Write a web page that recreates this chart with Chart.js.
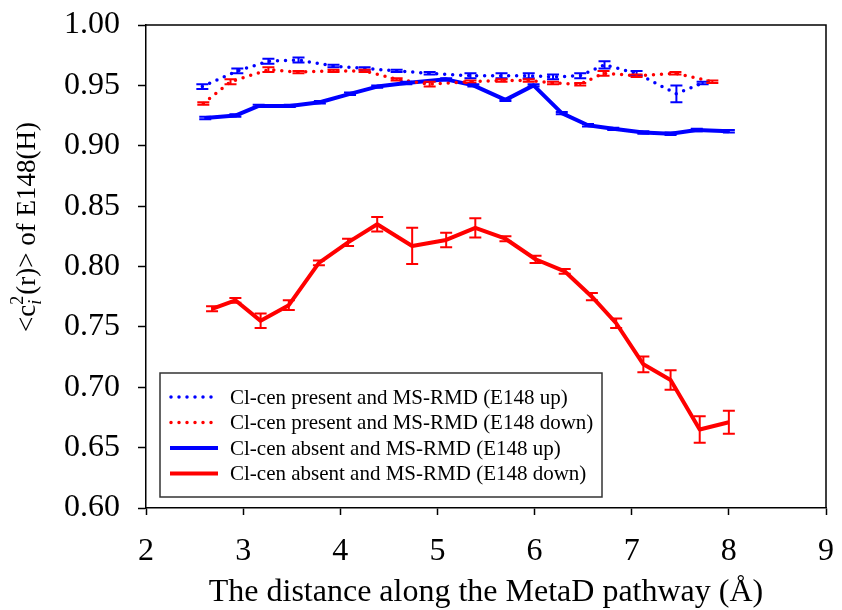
<!DOCTYPE html>
<html>
<head>
<meta charset="utf-8">
<script src="https://cdn.jsdelivr.net/npm/chart.js@4.4.0/dist/chart.umd.min.js"></script>
<style>
  html, body { margin: 0; padding: 0; background: #fff; }
  #wrap { width: 842px; height: 610px; }
</style>
</head>
<body>
<div id="wrap"><canvas id="myChart"></canvas></div>
<script>
// x ticks / y ticks
const X_MIN = 2, X_MAX = 9;
const Y_MIN = 0.60, Y_MAX = 1.00, Y_STEP = 0.05;

const LABELS = [
  "Cl-cen present and MS-RMD (E148 up)",
  "Cl-cen present and MS-RMD (E148 down)",
  "Cl-cen absent and MS-RMD (E148 up)",
  "Cl-cen absent and MS-RMD (E148 down)",
];

// Cl-cen present, E148 up (blue dotted)
const PRESENT_UP_X = [2.58, 2.94, 3.26, 3.57, 3.93, 4.25, 4.58, 4.92, 5.34, 5.66, 5.94, 6.19, 6.47, 6.72, 7.05, 7.46, 7.73];
const PRESENT_UP_Y = [0.949, 0.962, 0.970, 0.971, 0.966, 0.964, 0.962, 0.960, 0.958, 0.958, 0.958, 0.957, 0.958, 0.967, 0.960, 0.943, 0.952];
const PRESENT_UP_ERR = [0.002, 0.002, 0.002, 0.002, 0.001, 0.001, 0.001, 0.001, 0.002, 0.002, 0.002, 0.002, 0.002, 0.003, 0.002, 0.007, 0.001];

// Cl-cen present, E148 down (red dotted)
const PRESENT_DOWN_X = [2.59, 2.87, 3.26, 3.57, 3.93, 4.25, 4.58, 4.92, 5.34, 5.66, 5.94, 6.19, 6.47, 6.71, 7.05, 7.45, 7.83];
const PRESENT_DOWN_Y = [0.935, 0.953, 0.963, 0.961, 0.962, 0.962, 0.955, 0.951, 0.953, 0.954, 0.954, 0.952, 0.951, 0.960, 0.958, 0.960, 0.953];
const PRESENT_DOWN_ERR = [0.001, 0.002, 0.002, 0.001, 0.001, 0.001, 0.001, 0.002, 0.001, 0.001, 0.001, 0.001, 0.001, 0.002, 0.001, 0.001, 0.001];

// Cl-cen absent, E148 up (blue solid)
const ABSENT_UP_X = [2.61, 2.92, 3.16, 3.48, 3.79, 4.10, 4.38, 4.68, 5.09, 5.37, 5.70, 5.99, 6.28, 6.55, 6.81, 7.12, 7.40, 7.67, 8.00];
const ABSENT_UP_Y = [0.923, 0.925, 0.933, 0.933, 0.936, 0.943, 0.949, 0.952, 0.955, 0.950, 0.938, 0.950, 0.927, 0.917, 0.914, 0.911, 0.910, 0.913, 0.912];
const ABSENT_UP_ERR = [0.001, 0.001, 0.001, 0.001, 0.001, 0.001, 0.001, 0.001, 0.001, 0.001, 0.001, 0.001, 0.001, 0.001, 0.001, 0.001, 0.001, 0.001, 0.001];

// Cl-cen absent, E148 down (red solid)
const ABSENT_DOWN_X = [2.68, 2.92, 3.18, 3.47, 3.78, 4.08, 4.38, 4.74, 5.09, 5.39, 5.70, 6.01, 6.31, 6.59, 6.84, 7.12, 7.40, 7.70, 8.00];
const ABSENT_DOWN_Y = [0.765, 0.772, 0.755, 0.768, 0.803, 0.820, 0.835, 0.817, 0.822, 0.832, 0.823, 0.806, 0.796, 0.775, 0.753, 0.719, 0.706, 0.665, 0.671];
const ABSENT_DOWN_ERR = [0.002, 0.002, 0.006, 0.004, 0.002, 0.003, 0.006, 0.015, 0.006, 0.008, 0.002, 0.003, 0.002, 0.003, 0.004, 0.0065, 0.008, 0.011, 0.0095];

const SERIF = "'Liberation Serif', 'Times New Roman', serif";
const BLUE = "#0000ff";
const RED = "#ff0000";

function pts(xs, ys) {
  return xs.map((x, i) => ({ x: x, y: ys[i] }));
}

function series(label, xs, ys, errs, color, dotted) {
  return {
    label: label,
    data: pts(xs, ys),
    errors: errs,
    borderColor: color,
    backgroundColor: color,
    borderWidth: dotted ? 3.5 : 4,
    borderDash: dotted ? [0, 8] : [],
    borderCapStyle: dotted ? "round" : "butt",
    borderJoinStyle: "round",
    pointRadius: 0,
    tension: 0,
    dotted: dotted,
  };
}

// error bars with caps
const errorBars = {
  id: "errorBars",
  afterDatasetsDraw(chart) {
    const { ctx, scales: { x, y } } = chart;
    chart.data.datasets.forEach((ds) => {
      ctx.save();
      ctx.strokeStyle = ds.borderColor;
      ctx.lineWidth = 2;
      ds.data.forEach((p, i) => {
        const e = ds.errors[i];
        if (!e) return;
        const px = x.getPixelForValue(p.x);
        const top = y.getPixelForValue(p.y + e);
        const bot = y.getPixelForValue(p.y - e);
        ctx.beginPath();
        ctx.moveTo(px, top); ctx.lineTo(px, bot);
        ctx.moveTo(px - 6, top); ctx.lineTo(px + 6, top);
        ctx.moveTo(px - 6, bot); ctx.lineTo(px + 6, bot);
        ctx.stroke();
      });
      ctx.restore();
    });
  },
};

// frame, y title with sub/superscript, legend box
const extras = {
  id: "extras",
  afterDraw(chart) {
    const { ctx, chartArea: a } = chart;
    ctx.save();
    ctx.strokeStyle = "#000";
    ctx.lineWidth = 1.5;
    ctx.beginPath();
    ctx.moveTo(a.left, a.top); ctx.lineTo(a.right, a.top); ctx.lineTo(a.right, a.bottom);
    ctx.stroke();

    // y title
    const big = "27px " + SERIF, small = "18px " + SERIF, smallIt = "italic 18px " + SERIF;
    ctx.save();
    ctx.translate(28, 227);
    ctx.rotate(-Math.PI / 2);
    ctx.fillStyle = "#000";
    ctx.textBaseline = "middle";
    ctx.textAlign = "left";
    const p1 = "<c", p3 = "(r)> of E148(H)";
    ctx.font = big; const w1 = ctx.measureText(p1).width, w3 = ctx.measureText(p3).width;
    ctx.font = small; const w2 = ctx.measureText("2").width + 1;
    let cx = -(w1 + w2 + w3) / 2;
    ctx.font = big; ctx.fillText(p1, cx, 0); cx += w1;
    ctx.font = smallIt; ctx.fillText("i", cx, 8);
    ctx.font = small; ctx.fillText("2", cx, -10); cx += w2;
    ctx.font = big; ctx.fillText(p3, cx, 0);
    ctx.restore();

    // legend
    const lx = 160, ly = 373, lw = 442, lh = 124;
    ctx.fillStyle = "#fff";
    ctx.fillRect(lx, ly, lw, lh);
    ctx.strokeStyle = "#333";
    ctx.lineWidth = 1.5;
    ctx.strokeRect(lx, ly, lw, lh);
    ctx.font = "21px " + SERIF;
    ctx.textBaseline = "middle";
    chart.data.datasets.forEach((ds, i) => {
      const ry = 397 + i * 25.5;
      ctx.strokeStyle = ds.borderColor;
      ctx.lineWidth = ds.borderWidth;
      ctx.lineCap = ds.dotted ? "round" : "butt";
      ctx.setLineDash(ds.dotted ? [0, 8] : []);
      ctx.beginPath();
      ctx.moveTo(ds.dotted ? 171 : 170, ry);
      ctx.lineTo(218, ry);
      ctx.stroke();
      ctx.setLineDash([]);
      ctx.fillStyle = "#000";
      ctx.fillText(ds.label, 230, ry + 1);
    });
    ctx.restore();
  },
};

const data = {
  datasets: [
    series(LABELS[0], PRESENT_UP_X, PRESENT_UP_Y, PRESENT_UP_ERR, BLUE, true),
    series(LABELS[1], PRESENT_DOWN_X, PRESENT_DOWN_Y, PRESENT_DOWN_ERR, RED, true),
    series(LABELS[2], ABSENT_UP_X, ABSENT_UP_Y, ABSENT_UP_ERR, BLUE, false),
    series(LABELS[3], ABSENT_DOWN_X, ABSENT_DOWN_Y, ABSENT_DOWN_ERR, RED, false),
  ],
};

const options = {
  responsive: true,
  maintainAspectRatio: false,
  animation: false,
  layout: { padding: { top: 25, right: 16, left: 0, bottom: 0 } },
  plugins: {
    legend: { display: false },
    tooltip: { enabled: false },
  },
  scales: {
    x: {
      type: "linear",
      min: X_MIN,
      max: X_MAX,
      afterFit: (s) => { s.height = 102; s.paddingLeft = 0; s.paddingRight = 0; },
      border: { color: "#000", width: 1.5 },
      grid: { drawOnChartArea: false, drawTicks: true, tickLength: 7, color: "#000", tickWidth: 1.5 },
      ticks: { stepSize: 1, color: "#000", padding: 17, font: { family: SERIF, size: 32 } },
      title: {
        display: true,
        text: "The distance along the MetaD pathway (Å)",
        color: "#000",
        font: { family: SERIF, size: 32 },
        padding: { top: 0, bottom: -2 },
      },
    },
    y: {
      type: "linear",
      min: Y_MIN,
      max: Y_MAX,
      afterFit: (s) => { s.width = 146; s.paddingTop = 0; s.paddingBottom = 0; },
      border: { color: "#000", width: 1.5 },
      grid: { drawOnChartArea: false, drawTicks: true, tickLength: 8, color: "#000", tickWidth: 1.5 },
      ticks: {
        stepSize: Y_STEP,
        color: "#000",
        padding: 18,
        font: { family: SERIF, size: 32 },
        callback: (v) => v.toFixed(2),
      },
    },
  },
};

const myChart = new Chart(document.getElementById("myChart"), {
  type: "line",
  data: data,
  options: options,
  plugins: [errorBars, extras],
});
</script>
</body>
</html>
